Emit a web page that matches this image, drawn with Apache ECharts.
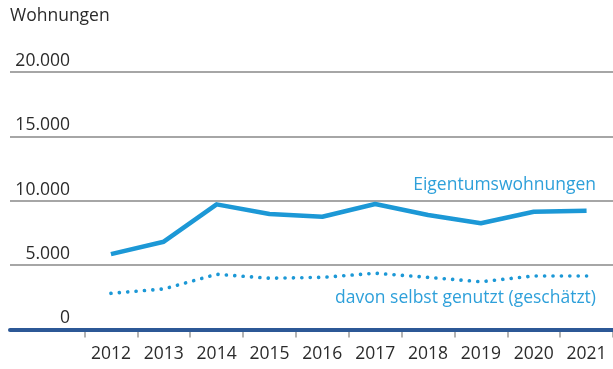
<!DOCTYPE html>
<html>
<head>
<meta charset="utf-8">
<script src="https://cdn.jsdelivr.net/npm/echarts@6/dist/echarts.min.js"></script>
<style>
  html, body { margin: 0; padding: 0; background: #ffffff; }
  #chart { width: 613px; height: 369px; }
</style>
</head>
<body>
<div id="chart"></div>
<script>
// Jahre und Baugenehmigungen für Eigentumswohnungen
const years = ['2012', '2013', '2014', '2015', '2016', '2017', '2018', '2019', '2020', '2021'];
const eigentumswohnungen = [5850, 6820, 9720, 8970, 8760, 9750, 8890, 8250, 9150, 9230];
const selbstGenutzt = [2810, 3150, 4290, 3980, 4050, 4370, 4050, 3710, 4160, 4160];
const yTicks = [0, 5000, 10000, 15000, 20000];

const seriesNameMain = 'Eigentumswohnungen';
const seriesNameOwn = 'davon selbst genutzt (geschätzt)';
const unitLabel = 'Wohnungen';

const FONT = '"Open Sans", "Noto Sans", sans-serif';
const FS = 17.5;
const BLUE = '#1c98d6';
const LABEL_BLUE = '#2ea0da';
const NAVY = '#2c5896';
const GRID_GRAY = '#a6a6a6';
const TEXT = '#2b2b2b';

const yMax = yTicks[yTicks.length - 1];
const yStep = yTicks[1] - yTicks[0];

const chart = echarts.init(document.getElementById('chart'), null, { renderer: 'canvas' });

chart.setOption({
  animation: false,
  backgroundColor: '#ffffff',
  textStyle: { fontFamily: FONT },
  grid: [
    // full-width frame for the horizontal rules and value labels
    { left: 10, right: 0, top: 72, bottom: 39.5 },
    // plotting area for the yearly values
    { left: 84.5, right: -5.5, top: 72, bottom: 39.5 }
  ],
  xAxis: [
    {
      gridIndex: 0, type: 'value', min: 0, max: 1,
      z: 3,
      axisLine: { show: true, onZero: false, lineStyle: { color: NAVY, width: 4 } },
      axisTick: { show: false }, axisLabel: { show: false }, splitLine: { show: false }
    },
    {
      gridIndex: 1, type: 'category', data: years, boundaryGap: true,
      z: 1,
      axisLine: { show: false },
      axisTick: { show: true, alignWithLabel: false, length: 8, lineStyle: { color: '#9a9a9a', width: 1.5 } },
      axisLabel: { color: TEXT, fontSize: FS, fontFamily: FONT, margin: 16 },
      splitLine: { show: false }
    }
  ],
  yAxis: [
    {
      gridIndex: 0, type: 'value', min: 0, max: yMax, interval: yStep,
      axisLine: { show: false }, axisTick: { show: false },
      axisLabel: {
        inside: true, margin: 60, align: 'right', verticalAlign: 'bottom',
        padding: [0, 0, 2, 0],
        color: TEXT, fontSize: FS, fontFamily: FONT,
        formatter: v => v.toLocaleString('de-DE')
      },
      splitLine: {
        show: true,
        lineStyle: { color: GRID_GRAY, width: 2 }
      }
    },
    {
      gridIndex: 1, type: 'value', min: 0, max: yMax, interval: yStep,
      show: false
    }
  ],
  graphic: [
    {
      type: 'text', left: 10, top: 7,
      style: { text: unitLabel, fill: TEXT, font: FS + 'px ' + FONT }
    },
    {
      type: 'text', right: 17, top: 176,
      style: { text: seriesNameMain, fill: LABEL_BLUE, font: FS + 'px ' + FONT }
    },
    {
      type: 'text', right: 17, top: 289,
      style: { text: seriesNameOwn, fill: LABEL_BLUE, font: FS + 'px ' + FONT }
    }
  ],
  series: [
    {
      name: seriesNameMain,
      type: 'line',
      xAxisIndex: 1, yAxisIndex: 1,
      data: eigentumswohnungen,
      symbol: 'none',
      lineStyle: { color: BLUE, width: 4.5, join: 'round' },
      z: 5
    },
    {
      name: seriesNameOwn,
      type: 'line',
      xAxisIndex: 1, yAxisIndex: 1,
      data: selbstGenutzt,
      symbol: 'none',
      lineStyle: { color: BLUE, width: 3.6, type: [0.1, 8.3], cap: 'round' },
      z: 5
    }
  ]
});
</script>
</body>
</html>
